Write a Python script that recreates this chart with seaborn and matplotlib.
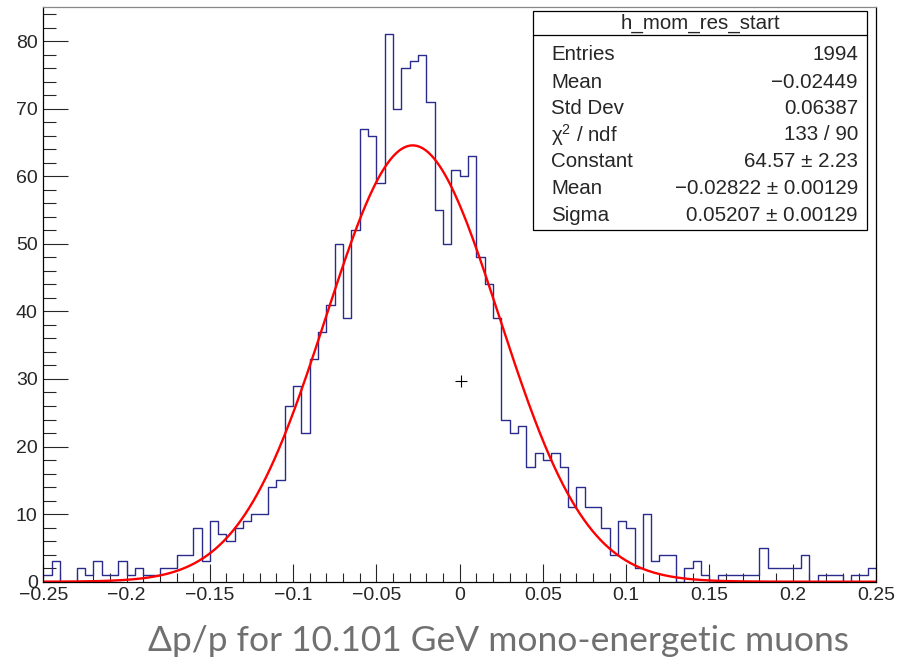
import numpy as np
import pandas as pd
import seaborn as sns
import matplotlib
matplotlib.use("Agg")
import matplotlib.pyplot as plt
from matplotlib.ticker import MultipleLocator

# ---- data ----
x_min, x_max, n_bins = -0.25, 0.25, 100
counts = [1, 3, 0, 0, 2, 1, 3, 1, 1, 3,
          1, 2, 1, 1, 2, 2, 4, 4, 8, 3,
          9, 7, 6, 8, 9, 10, 10, 14, 15, 26,
          29, 22, 33, 37, 41, 50, 39, 52, 67, 66,
          59, 81, 70, 76, 77, 78, 71, 55, 50, 61,
          60, 63, 48, 44, 39, 24, 22, 23, 17, 19,
          18, 19, 17, 11, 14, 11, 11, 8, 4, 9,
          8, 2, 10, 3, 4, 4, 0, 2, 3, 1,
          0, 1, 1, 1, 1, 1, 5, 2, 2, 2,
          2, 4, 0, 1, 1, 1, 0, 1, 1, 2]
fit_constant = 64.57
fit_mean = -0.02822
fit_sigma = 0.05207
stray_point = (0.001, 29.7)

stats_title = "h_mom_res_start"
stats_labels = ["Entries", "Mean", "Std Dev", "\u03c7$^{2}$ / ndf", "Constant", "Mean", "Sigma"]
stats_values = ["1994", "\u22120.02449", "0.06387", "133 / 90", "64.57 \u00b1 2.23",
                "\u22120.02822 \u00b1 0.00129", "0.05207 \u00b1 0.00129"]
caption = "\u0394p/p for 10.101 GeV mono-energetic muons"

# ---- build ----
binw = (x_max - x_min) / n_bins
centers = x_min + binw * (np.arange(n_bins) + 0.5)
df = pd.DataFrame({"x": centers, "n": np.array(counts, dtype=float)})

sns.set_style("white")
plt.rcParams["font.family"] = ["Liberation Sans", "DejaVu Sans"]
plt.rcParams["mathtext.fontset"] = "custom"
plt.rcParams["mathtext.rm"] = "Liberation Sans"
plt.rcParams["mathtext.it"] = "Liberation Sans:italic"

fig = plt.figure(figsize=(9.02, 6.61), dpi=100)
ax = fig.add_axes([43.3 / 902, 1 - 581.7 / 661, (876 - 43.3) / 902, (581.7 - 7) / 661])

sns.histplot(data=df, x="x", weights="n", binwidth=binw, binrange=(x_min, x_max),
             element="step", fill=False, color="#2b2b8c", linewidth=1.0, ax=ax)

xf = np.linspace(x_min, x_max, 600)
yf = fit_constant * np.exp(-0.5 * ((xf - fit_mean) / fit_sigma) ** 2)
sns.lineplot(x=xf, y=yf, color="#ff0000", linewidth=1.7, ax=ax)

ax.plot([stray_point[0]], [stray_point[1]], marker="+", color="black", markersize=8,
        markeredgewidth=0.8, linestyle="none")

ax.set_xlim(x_min, x_max)
ax.set_ylim(0, 85.05)
ax.set_xlabel("")
ax.set_ylabel("")
ax.xaxis.set_minor_locator(MultipleLocator(0.01))
ax.yaxis.set_major_locator(MultipleLocator(10))
ax.yaxis.set_minor_locator(MultipleLocator(2))
ax.set_xticks(np.round(np.arange(-0.25, 0.2501, 0.05), 2))
ax.set_xticklabels(["\u22120.25", "\u22120.2", "\u22120.15", "\u22120.1", "\u22120.05", "0",
                    "0.05", "0.1", "0.15", "0.2", "0.25"])
ax.tick_params(axis="x", which="major", direction="in", length=13, width=0.8, labelsize=14, pad=4,
               bottom=True, top=False)
ax.tick_params(axis="x", which="minor", direction="in", length=6.5, width=0.8, bottom=True, top=False)
ax.tick_params(axis="y", which="major", direction="in", length=18, width=0.8, labelsize=14, pad=4,
               left=True, right=False)
ax.tick_params(axis="y", which="minor", direction="in", length=9, width=0.8, left=True, right=False)
for s in ax.spines.values():
    s.set_color("black")
    s.set_linewidth(0.9)
ax.spines["top"].set_color("#888888")

# ---- stats box ----
bx0, bx1 = 533.3 / 902, 866.7 / 902
by_top, by_bot = 1 - 11 / 661, 1 - 230 / 661
fig.patches.append(plt.Rectangle((bx0, by_bot), bx1 - bx0, by_top - by_bot, transform=fig.transFigure,
                                 fill=True, facecolor="white", edgecolor="black", linewidth=0.9,
                                 zorder=5))
sep_y = 1 - 35 / 661
fig.add_artist(plt.Line2D([bx0, bx1], [sep_y, sep_y], transform=fig.transFigure,
                          color="black", linewidth=0.9, zorder=6))
fig.text((bx0 + bx1) / 2, 1 - 23 / 661, stats_title, ha="center", va="center", fontsize=14.8, zorder=7)
row_y = [55, 82, 108, 135, 162, 189, 215]
for lab, val, ry in zip(stats_labels, stats_values, row_y):
    fig.text(551 / 902, 1 - ry / 661, lab, ha="left", va="center", fontsize=14.8, zorder=7)
    fig.text(858 / 902, 1 - ry / 661, val, ha="right", va="center", fontsize=14.8, zorder=7)

# ---- caption ----
fig.text(498 / 902, 1 - 641 / 661, caption, ha="center", va="center", fontsize=25.5,
         color="#707070", family=["Lato", "DejaVu Sans"])

fig.savefig("out.png", dpi=100)
